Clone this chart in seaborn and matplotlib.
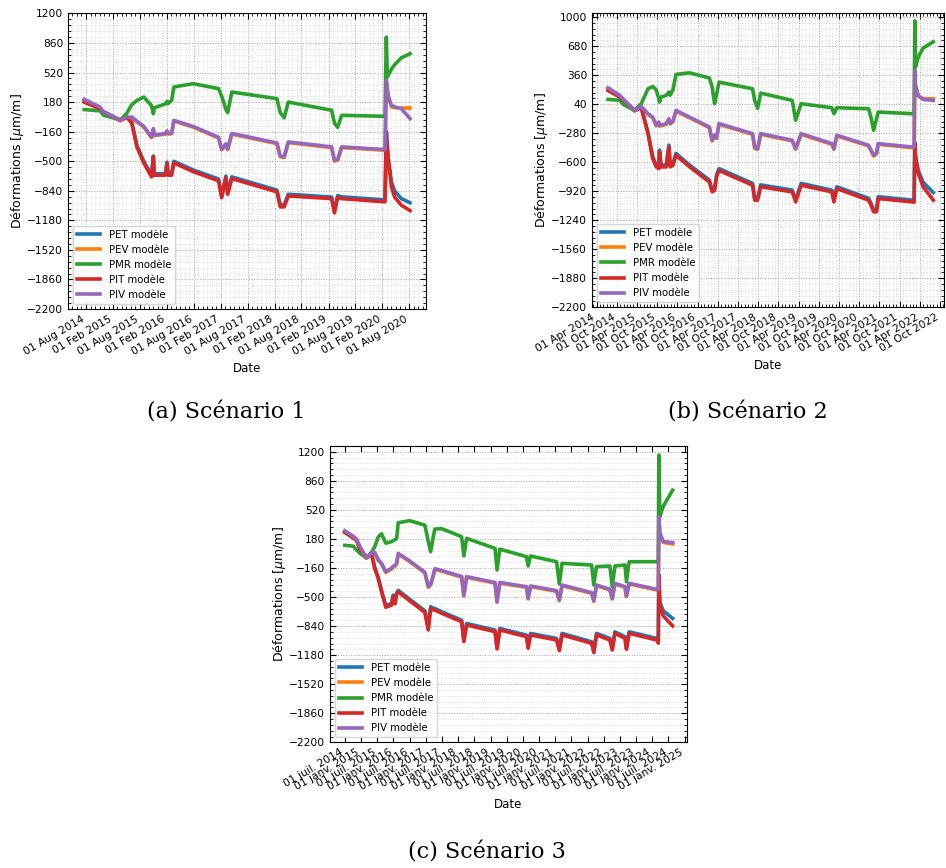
import numpy as np
import pandas as pd
import matplotlib
matplotlib.use("Agg")
import matplotlib.pyplot as plt
import matplotlib.dates as mdates
from matplotlib.ticker import FixedLocator, AutoMinorLocator, FuncFormatter
import seaborn as sns

# ---------------- Scénario 1 ----------------
dates_s1 = ["2014-07-20", "2014-11-04", "2014-11-28", "2015-03-22", "2015-05-04", "2015-06-07",
            "2015-07-13", "2015-08-28", "2015-10-19", "2015-11-01", "2015-11-07", "2016-01-22",
            "2016-02-01", "2016-02-10", "2016-03-04", "2016-03-19", "2016-07-28", "2017-01-16",
            "2017-02-06", "2017-03-07", "2017-03-19", "2017-04-16", "2018-02-16", "2018-03-10",
            "2018-04-06", "2018-05-04", "2019-02-22", "2019-03-13", "2019-04-04", "2019-05-01",
            "2020-02-19", "2020-02-28", "2020-03-06", "2020-03-15", "2020-04-03", "2020-04-24",
            "2020-06-09", "2020-08-07"]
pet_s1 = [183, 108, 70, -27, 8, -50, -320, -500, -662, -440, -645, -643, -510, -643, -643, -500, -600, -705,
          -900, -670, -860, -680, -832, -1000, -1000, -880, -912, -1070, -895, -910, -945,
          -160, -340, -500, -740, -840, -930, -978]
pev_s1 = [205, 118, 60, -35, 2, 0, -48, -108, -228, -135, -206, -188, -160, -188, -183, -38, -108, -232,
          -368, -308, -368, -188, -298, -448, -458, -286, -343, -498, -488, -343, -374,
          420, 320, 225, 125, 115, 112, 112]
pmr_s1 = [94, 80, 30, -25, 50, 150, 200, 239, 140, 47, 115, 160, 190, 165, 200, 355, 392, 335,
          250, 95, 60, 296, 220, 60, 0, 181, 86, -60, -110, 28, 17,
          928, 470, 500, 560, 610, 690, 737]
pit_s1 = [181, 105, 67, -29, 5, -60, -340, -520, -680, -450, -661, -660, -527, -661, -661, -519, -620, -725,
          -920, -690, -880, -700, -852, -1025, -1025, -900, -930, -1094, -915, -930, -967,
          -163, -350, -527, -796, -911, -1006, -1068]
piv_s1 = [212, 124, 67, -29, 8, 8, -40, -100, -221, -125, -200, -180, -150, -180, -175, -30, -100, -225,
          -360, -300, -360, -180, -290, -440, -450, -278, -335, -490, -480, -335, -366,
          430, 330, 230, 143, 125, 105, -10]
yticks_s1 = [1200, 860, 520, 180, -160, -500, -840, -1180, -1520, -1860, -2200]
xlim_s1 = ["2014-04-01", "2020-11-23"]

# ---------------- Scénario 2 ----------------
dates_s2 = ["2014-07-14", "2014-10-28", "2014-11-27", "2015-03-10", "2015-05-10", "2015-07-10",
            "2015-08-22", "2015-09-22", "2015-10-16", "2015-10-22", "2015-11-06", "2015-12-22",
            "2016-01-15", "2016-01-27", "2016-02-21", "2016-03-19", "2016-07-19", "2017-01-15",
            "2017-02-09", "2017-03-03", "2017-03-21", "2017-04-12", "2018-02-09", "2018-03-01",
            "2018-03-27", "2018-04-24", "2019-02-03", "2019-03-06", "2019-04-24", "2020-01-27",
            "2020-02-15", "2020-03-12", "2020-12-24", "2021-01-18", "2021-02-08", "2021-03-06",
            "2021-03-21", "2022-01-18", "2022-02-09", "2022-02-15", "2022-02-21", "2022-03-18",
            "2022-05-01", "2022-08-01"]
pet_s2 = [195, 122, 93, -26, 6, -270, -540, -630, -650, -466, -631, -631, -411, -631, -613, -503, -630, -797,
          -907, -890, -740, -670, -833, -998, -998, -850, -907, -1017, -833, -907, -1017, -870, -998, -1060,
          -1127, -1127, -980, -1017, -1020, -380, -520, -690, -820, -935]
pev_s2 = [214, 130, 92, -36, 8, -72, -109, -198, -164, -201, -198, -182, -128, -178, -153, -36, -109, -219,
          -366, -308, -338, -182, -292, -448, -458, -292, -365, -457, -292, -402, -457, -310, -420, -478,
          -531, -508, -402, -439, -441, 405, 240, 130, 100, 101]
pmr_s2 = [94, 83, 40, -28, 46, 211, 237, 200, 100, 64, 120, 138, 175, 140, 200, 369, 387, 330,
          230, 46, 150, 284, 211, 80, -5, 163, 83, -137, 46, 2, -64, 2, -9, -120,
          -247, -120, -46, -64, -66, 960, 450, 560, 660, 730]
pit_s2 = [193, 119, 90, -28, 2, -284, -560, -651, -670, -486, -651, -651, -431, -651, -633, -523, -650, -817,
          -927, -910, -760, -690, -853, -1018, -1018, -870, -927, -1037, -853, -927, -1037, -890, -1018, -1080,
          -1147, -1147, -1000, -1037, -1040, -394, -540, -720, -870, -1018]
piv_s2 = [222, 138, 100, -28, 16, -64, -101, -190, -156, -193, -190, -174, -120, -170, -145, -28, -101, -211,
          -358, -300, -330, -174, -284, -440, -450, -284, -357, -449, -284, -394, -449, -302, -412, -470,
          -523, -500, -394, -431, -433, 413, 250, 138, 94, 83]
yticks_s2 = [1000, 680, 360, 40, -280, -600, -920, -1240, -1560, -1880, -2200]
xlim_s2 = ["2014-02-19", "2022-11-07"]

# ---------------- Scénario 3 ----------------
dates_s3 = ["2014-07-01", "2014-10-04", "2014-11-10", "2014-12-18", "2015-03-01", "2015-04-27",
            "2015-06-04", "2015-07-12", "2015-08-19", "2015-10-06", "2015-12-10", "2015-12-28",
            "2016-01-18", "2016-02-06", "2016-02-24", "2016-07-04", "2016-12-21", "2017-01-28",
            "2017-02-24", "2017-03-25", "2017-04-12", "2017-06-27", "2018-02-09", "2018-03-06",
            "2018-04-06", "2019-02-21", "2019-03-16", "2019-04-16", "2020-02-12", "2020-03-01",
            "2020-03-28", "2021-01-16", "2021-02-16", "2021-03-19", "2022-02-16", "2022-03-13",
            "2022-04-12", "2022-09-10", "2022-10-07", "2022-11-06", "2023-02-28", "2023-03-16",
            "2023-04-16", "2024-02-22", "2024-03-10", "2024-03-16", "2024-03-28", "2024-05-04",
            "2024-08-19"]
pet_s3 = [259, 193, 168, 64, -38, 10, -155, -265, -420, -600, -576, -478, -562, -452, -422, -527, -662, -866,
          -613, -632, -634, -672, -771, -1002, -810, -887, -1088, -868, -946, -1080, -926, -985, -1108,
          -926, -1024, -1131, -926, -985, -1100, -907, -965, -1092, -907, -985, -1020, -240, -560, -660, -750]
pev_s3 = [267, 202, 172, 82, -46, 7, 14, -68, -114, -212, -173, -148, -138, -114, 3, -88, -218, -387,
          -358, -258, -177, -198, -268, -489, -270, -338, -563, -338, -387, -524, -379, -434, -543,
          -368, -457, -551, -368, -418, -524, -348, -387, -496, -348, -418, -420, 430, 240, 140, 120]
pmr_s3 = [105, 95, 50, 11, -40, 20, 90, 200, 240, 130, 147, 160, 170, 186, 370, 393, 340, 150,
          30, 200, 295, 300, 206, -20, 186, 69, -184, 60, -28, -137, -20, -87, -348, -106,
          -126, -360, -145, -137, -379, -137, -126, -321, -87, -87, -90, 1161, 440, 560, 750]
pit_s3 = [257, 190, 165, 60, -40, 5, -170, -282, -438, -620, -594, -496, -580, -470, -440, -545, -680, -886,
          -633, -650, -652, -690, -789, -1022, -828, -905, -1108, -886, -964, -1100, -944, -1003, -1128,
          -944, -1042, -1151, -944, -1003, -1120, -925, -983, -1112, -925, -1003, -1040, -250, -600, -720, -839]
piv_s3 = [275, 210, 180, 90, -40, 15, 22, -60, -106, -204, -165, -140, -130, -106, 11, -80, -210, -379,
          -350, -250, -169, -190, -260, -481, -262, -330, -555, -330, -379, -516, -371, -426, -535,
          -360, -449, -543, -360, -410, -516, -340, -379, -488, -340, -410, -412, 440, 250, 150, 136]
yticks_s3 = [1200, 860, 520, 180, -160, -500, -840, -1180, -1520, -1860, -2200]
xlim_s3 = ["2014-01-14", "2025-01-28"]

labels = ["PET modèle", "PEV modèle", "PMR modèle", "PIT modèle", "PIV modèle"]
colors = ["#1f77b4", "#ff7f0e", "#2ca02c", "#d62728", "#9467bd"]
mois_fr = {1: "janv.", 2: "févr.", 3: "mars", 4: "avr.", 5: "mai", 6: "juin",
           7: "juil.", 8: "août", 9: "sept.", 10: "oct.", 11: "nov.", 12: "déc."}


def long_df(dates, series):
    frames = []
    for name, vals in zip(labels, series):
        frames.append(pd.DataFrame({"Date": pd.to_datetime(dates), "val": vals, "serie": name}))
    return pd.concat(frames, ignore_index=True)


def fr_date(x, pos=None):
    d = mdates.num2date(x)
    return "%02d %s %d" % (d.day, mois_fr[d.month], d.year)


def draw(ax, df, yticks, ytop, xlim, months, fmt, xgrid=True):
    sns.lineplot(data=df, x="Date", y="val", hue="serie", palette=colors,
                 linewidth=2.6, estimator=None, ax=ax)
    ax.set_xlim(pd.to_datetime(xlim[0]), pd.to_datetime(xlim[1]))
    ax.set_ylim(-2200, ytop)
    ax.yaxis.set_major_locator(FixedLocator(yticks))
    ax.yaxis.set_minor_locator(AutoMinorLocator(5))
    ax.xaxis.set_major_locator(mdates.MonthLocator(bymonth=months, bymonthday=1))
    ax.xaxis.set_major_formatter(fmt)
    if xgrid:
        # monthly minor ticks -> fine dotted mesh
        ax.xaxis.set_minor_locator(mdates.MonthLocator())
        ax.grid(which="major", linestyle=":", linewidth=0.7, color="0.65")
        ax.grid(which="minor", linestyle=":", linewidth=0.5, color="0.82")
    else:
        ax.yaxis.grid(which="major", linestyle=":", linewidth=0.7, color="0.65")
        ax.yaxis.grid(which="minor", linestyle=":", linewidth=0.5, color="0.82")
    ax.tick_params(which="both", direction="in", top=True, right=True, labelsize=7.7)
    ax.tick_params(which="major", length=4)
    ax.tick_params(which="minor", length=2)
    for lab in ax.get_xticklabels():
        lab.set_rotation(30)
        lab.set_ha("right")
    ax.set_xlabel("Date", fontsize=8.5)
    ax.set_ylabel(r"Déformations [$\mu$m/m]", fontsize=9, labelpad=1)
    leg = ax.legend(loc="lower left", fontsize=7.3, handlelength=2.3, labelspacing=0.5)
    for h in leg.get_lines():
        h.set_linewidth(2.6)


fig = plt.figure(figsize=(9.46, 8.68), dpi=100)
ax1 = fig.add_axes([0.0719, 0.6440, 0.3784, 0.3410])
ax2 = fig.add_axes([0.6258, 0.6460, 0.3722, 0.3387])
ax3 = fig.add_axes([0.3488, 0.1448, 0.3774, 0.3417])

draw(ax1, long_df(dates_s1, [pet_s1, pev_s1, pmr_s1, pit_s1, piv_s1]), yticks_s1, 1205, xlim_s1,
     [2, 8], mdates.DateFormatter("%d %b %Y"))
draw(ax2, long_df(dates_s2, [pet_s2, pev_s2, pmr_s2, pit_s2, piv_s2]), yticks_s2, 1044, xlim_s2,
     [4, 10], mdates.DateFormatter("%d %b %Y"))
draw(ax3, long_df(dates_s3, [pet_s3, pev_s3, pmr_s3, pit_s3, piv_s3]), yticks_s3, 1270, xlim_s3,
     [1, 7], FuncFormatter(fr_date), xgrid=False)

fig.text(0.2389, 0.5242, "(a) Scénario 1", ha="center", va="center", fontsize=16, family="DejaVu Serif")
fig.text(0.7907, 0.5242, "(b) Scénario 2", ha="center", va="center", fontsize=16, family="DejaVu Serif")
fig.text(0.5148, 0.0184, "(c) Scénario 3", ha="center", va="center", fontsize=16, family="DejaVu Serif")

fig.savefig("out.png", dpi=100)
